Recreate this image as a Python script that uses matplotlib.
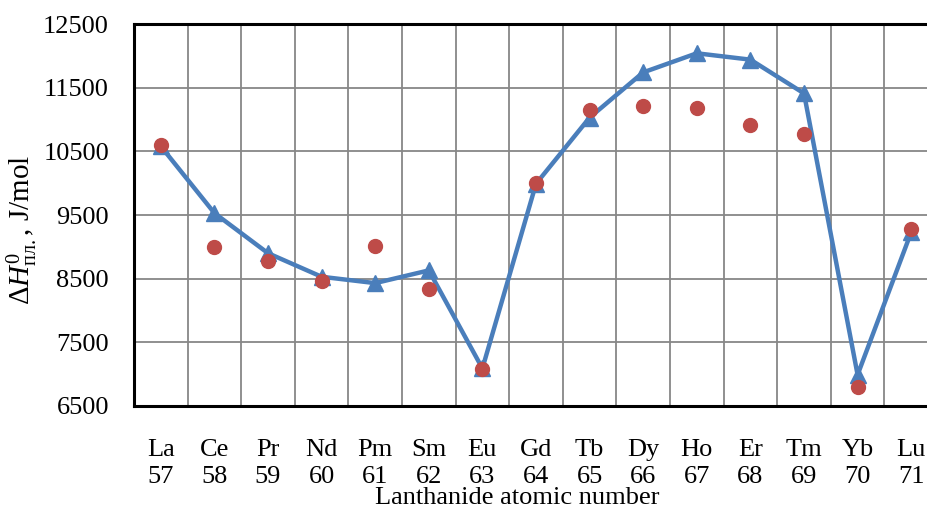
import matplotlib
matplotlib.use('Agg')
import matplotlib.pyplot as plt
import numpy as np

# данные
elements = ['La', 'Ce', 'Pr', 'Nd', 'Pm', 'Sm', 'Eu', 'Gd', 'Tb', 'Dy', 'Ho', 'Er', 'Tm', 'Yb', 'Lu']
atomic_numbers = [57, 58, 59, 60, 61, 62, 63, 64, 65, 66, 67, 68, 69, 70, 71]
calc_values = [10580, 9530, 8900, 8530, 8430, 8630, 7090, 9990, 11030, 11740, 12040, 11940, 11410, 6990, 9230]
exp_values = [10600, 9000, 8775, 8470, 9010, 8330, 7080, 10005, 11150, 11215, 11175, 10910, 10770, 6800, 9275]
y_ticks = [6500, 7500, 8500, 9500, 10500, 11500, 12500]

plt.rcParams['font.family'] = 'Liberation Serif'
plt.rcParams['mathtext.fontset'] = 'custom'
plt.rcParams['mathtext.rm'] = 'Liberation Serif'
plt.rcParams['mathtext.it'] = 'Liberation Serif:italic'

fig = plt.figure(figsize=(9.28, 5.08), dpi=100)
ax = fig.add_axes([134 / 928, 102 / 508, 804 / 928, 382 / 508])

x = np.arange(len(elements))
ax.plot(x, calc_values, color='#4A7EBB', lw=3.2, marker='^', markersize=11, zorder=3, clip_on=False)
ax.plot(x, exp_values, linestyle='none', marker='o', color='#BE4B48', markersize=10, zorder=4, clip_on=False)

ax.set_xlim(-0.5, len(elements) - 0.5)
ax.set_ylim(6500, 12500)
ax.set_yticks(y_ticks)
ax.set_xticks(x)
ax.set_xticklabels([f'{e}\n{n}' for e, n in zip(elements, atomic_numbers)], linespacing=1.3)
ax.set_xticks(np.arange(-0.5, len(elements)), minor=True)
ax.tick_params(axis='both', which='both', length=0, labelsize=19)
ax.tick_params(axis='y', pad=18)
ax.tick_params(axis='x', pad=24)

ax.grid(True, axis='y', which='major', color='#878787', lw=1.3)
ax.grid(True, axis='x', which='minor', color='#878787', lw=1.3)
ax.set_axisbelow(True)

for s in ['left', 'bottom', 'top']:
    ax.spines[s].set_linewidth(2.2)
    ax.spines[s].set_color('black')
ax.spines['right'].set_visible(False)

fig.text(22 / 928, 1 - 230 / 508, r'$\Delta \mathit{H}^{0}_{\mathrm{пл.}}$, J/mol', rotation=90,
         fontsize=21, ha='center', va='center')
fig.text(517 / 928, 1 - 498 / 508, 'Lanthanide atomic number', fontsize=19, ha='center', va='center')

fig.savefig('out.png', dpi=100)
